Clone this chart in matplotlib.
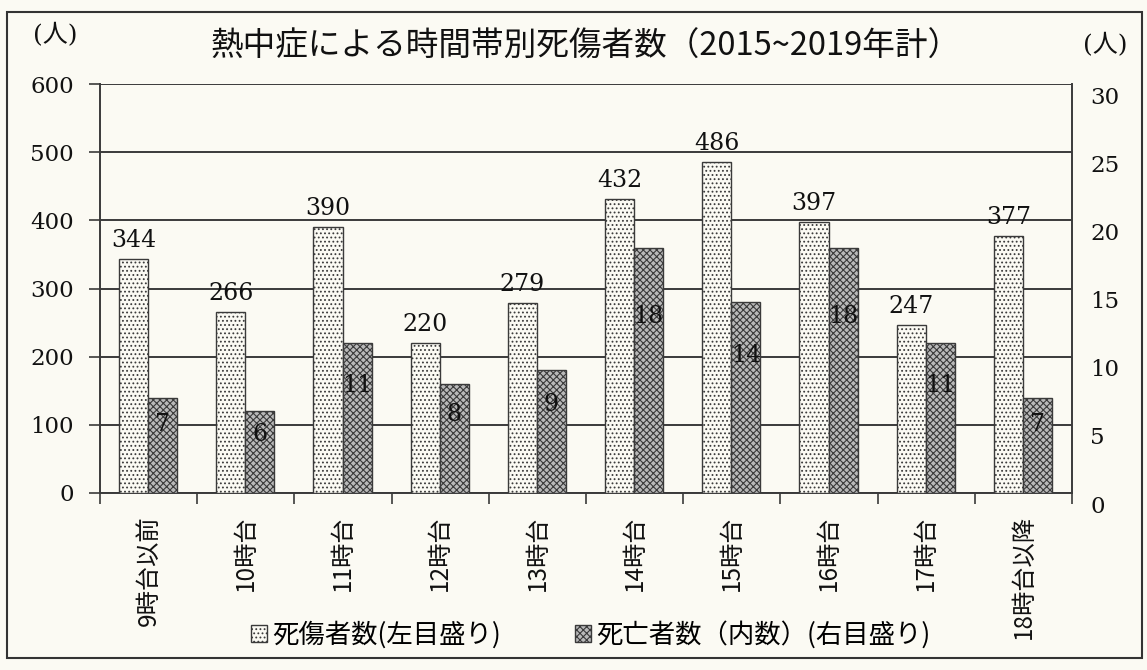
import matplotlib
matplotlib.use('Agg')
import matplotlib.pyplot as plt
import numpy as np
from matplotlib.patches import Rectangle, Patch
from matplotlib.transforms import ScaledTranslation

categories = ['9時台以前', '10時台', '11時台', '12時台', '13時台',
              '14時台', '15時台', '16時台', '17時台', '18時台以降']
casualties = [344, 266, 390, 220, 279, 432, 486, 397, 247, 377]
deaths = [7, 6, 11, 8, 9, 18, 14, 18, 11, 7]
left_ticks = [0, 100, 200, 300, 400, 500, 600]
right_ticks = [0, 5, 10, 15, 20, 25, 30]

title = '熱中症による時間帯別死傷者数（2015~2019年計）'
unit = '(人)'
legend_labels = ['死傷者数(左目盛り)', '死亡者数（内数）(右目盛り)']

BG = '#fbfaf3'
DARK = '#3a3a3a'
GRAY = '#b9b9b9'
JP = ['Noto Sans CJK JP', 'DejaVu Sans']
SERIF = ['DejaVu Serif', 'Noto Sans CJK JP']

plt.rcParams['font.family'] = JP
plt.rcParams['hatch.linewidth'] = 0.8

fig = plt.figure(figsize=(11.47, 6.70), dpi=100, facecolor=BG)
ax = fig.add_axes([0.0872, 0.2642, 0.8474, 0.6104])
ax.set_facecolor(BG)
ax2 = ax.twinx()

x = np.arange(len(categories))
w = 0.3
off1, off2 = -0.155, 0.145
ax.bar(x + off1, casualties, w, facecolor=BG, edgecolor=DARK, hatch='....',
       linewidth=1.0, zorder=3)
ax2.bar(x + off2, deaths, w, facecolor=GRAY, edgecolor=DARK, hatch='xxxxx',
        linewidth=1.0, zorder=3)

for xi, v in zip(x, casualties):
    ax.annotate(str(v), (xi + off1, v), xytext=(0, 5), textcoords='offset points',
                ha='center', va='bottom', fontsize=17, family=SERIF, color='#111')
for xi, d in zip(x, deaths):
    ax2.text(xi + off2, d * 0.72, str(d), ha='center', va='center',
             fontsize=17, family=SERIF, color='#111', zorder=5)

ax.set_xlim(-0.5, 9.5)
ax.set_ylim(0, 600)
ax2.set_ylim(0, 30)

ax.set_xticks(x)
ax.set_xticklabels(categories, rotation=90, fontsize=17.5, va='top', color='#111')
ax.tick_params(axis='x', which='major', length=0, pad=16)
ax.set_xticks(np.arange(-0.5, 10, 1), minor=True)
ax.tick_params(axis='x', which='minor', length=8, width=1.2, color=DARK, direction='out')

ax.set_yticks(left_ticks)
ax.set_yticklabels([str(t) for t in left_ticks], fontsize=16.5, family=SERIF, color='#111')
ax.tick_params(axis='y', length=8, width=1.2, color=DARK, pad=11)

ax2.set_yticks(right_ticks)
ax2.set_yticklabels([str(t) for t in right_ticks], fontsize=16.5, family=SERIF, color='#111')
ax2.tick_params(axis='y', length=0, pad=13)
for lab in ax2.get_yticklabels():
    lab.set_transform(lab.get_transform() + ScaledTranslation(0, -8 / 72, fig.dpi_scale_trans))

ax.grid(axis='y', color=DARK, linewidth=1.4, zorder=0)
ax.set_axisbelow(True)

for s in ['top', 'right']:
    ax.spines[s].set_visible(False)
for s in ['top', 'left', 'bottom']:
    ax2.spines[s].set_visible(False)
for sp in [ax.spines['left'], ax.spines['bottom'], ax2.spines['right']]:
    sp.set_color(DARK)
    sp.set_linewidth(1.4)

fig.text(0.511, 1 - 47 / 670, title, ha='center', va='center', fontsize=23.5, color='#111')
fig.text(55 / 1147, 1 - 35 / 670, unit, ha='center', va='center', fontsize=18,
         family=SERIF, color='#111')
fig.text(1105 / 1147, 1 - 45 / 670, unit, ha='center', va='center', fontsize=18,
         family=SERIF, color='#111')

handles = [Patch(facecolor=BG, edgecolor=DARK, hatch='....'),
           Patch(facecolor=GRAY, edgecolor=DARK, hatch='xxxxx')]
fig.legend(handles, legend_labels, loc='center', bbox_to_anchor=(0.515, 0.052), ncol=2,
           frameon=False, fontsize=19, handlelength=0.6, handleheight=0.6,
           handletextpad=0.2, columnspacing=2.8)

fig.add_artist(Rectangle((0.006, 0.018), 0.99, 0.964, transform=fig.transFigure,
                         fill=False, edgecolor='#333', linewidth=1.5))

fig.savefig('out.png', dpi=100, facecolor=BG)
